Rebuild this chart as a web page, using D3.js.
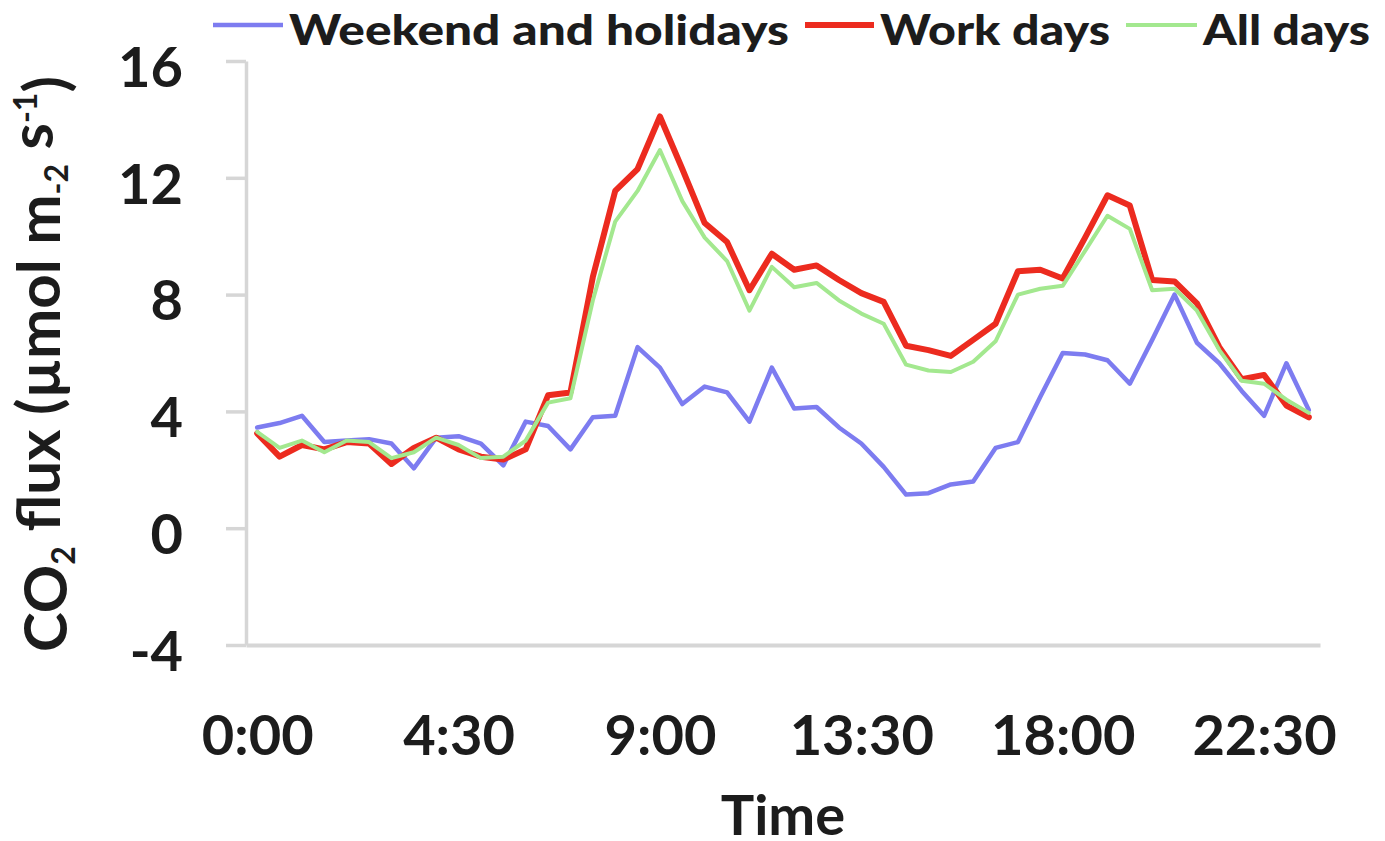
<!DOCTYPE html>
<html>
<head>
<meta charset="utf-8">
<script src="https://cdn.jsdelivr.net/npm/d3@7"></script>
<style>
  html, body { margin: 0; padding: 0; background: #ffffff; }
  svg { display: block; }
  text { font-family: Lato, "Open Sans", sans-serif; font-weight: 700; fill: #1c1c1c; }
</style>
</head>
<body>
<svg id="chart" width="1385" height="841"></svg>
<script>
// Half-hourly time of day
const times = [
  "0:00","0:30","1:00","1:30","2:00","2:30","3:00","3:30","4:00","4:30","5:00","5:30",
  "6:00","6:30","7:00","7:30","8:00","8:30","9:00","9:30","10:00","10:30","11:00","11:30",
  "12:00","12:30","13:00","13:30","14:00","14:30","15:00","15:30","16:00","16:30","17:00","17:30",
  "18:00","18:30","19:00","19:30","20:00","20:30","21:00","21:30","22:00","22:30","23:00","23:30"
];

// CO2 flux, µmol m-2 s-1
const weekendHolidays = [
  3.45, 3.6, 3.85, 2.95, 3.0, 3.05, 2.9, 2.05, 3.1, 3.15, 2.9, 2.15,
  3.65, 3.5, 2.7, 3.8, 3.85, 6.2, 5.5, 4.25, 4.85, 4.65, 3.65, 5.5,
  4.1, 4.15, 3.45, 2.9, 2.1, 1.15, 1.2, 1.5, 1.6, 2.75, 2.95, 4.5,
  6.0, 5.95, 5.75, 4.95, 6.45, 8.0, 6.35, 5.65, 4.7, 3.85, 5.65, 4.05
];
const workDays = [
  3.25, 2.45, 2.85, 2.7, 2.95, 2.9, 2.2, 2.75, 3.1, 2.7, 2.45, 2.35,
  2.7, 4.55, 4.65, 8.6, 11.55, 12.3, 14.1, 12.3, 10.45, 9.8, 8.15, 9.4,
  8.85, 9.0, 8.5, 8.05, 7.75, 6.25, 6.1, 5.9, 6.45, 7.0, 8.8, 8.85,
  8.55, 9.95, 11.4, 11.05, 8.5, 8.45, 7.7, 6.2, 5.1, 5.25, 4.2, 3.8
];
const allDays = [
  3.3, 2.75, 3.0, 2.6, 3.0, 2.95, 2.4, 2.6, 3.1, 2.85, 2.4, 2.45,
  3.0, 4.3, 4.45, 7.8, 10.5, 11.55, 12.95, 11.2, 9.95, 9.15, 7.45, 8.95,
  8.25, 8.4, 7.8, 7.35, 7.0, 5.6, 5.4, 5.35, 5.7, 6.4, 8.0, 8.2,
  8.3, 9.5, 10.7, 10.25, 8.15, 8.2, 7.45, 6.1, 5.05, 4.95, 4.4, 3.95
];

const xTickLabels = ["0:00", "4:30", "9:00", "13:30", "18:00", "22:30"];
const yTickValues = [-4, 0, 4, 8, 12, 16];

const seriesNames = ["Weekend and holidays", "Work days", "All days"];
const seriesColors = ["#7d7cf0", "#ec2b1f", "#a3e88f"];
const seriesWidths = [4.5, 6, 4];
const seriesData = [weekendHolidays, workDays, allDays];

const svg = d3.select("#chart");

const x = d3.scalePoint().domain(times).range([246, 1320]).padding(0.5);
const y = d3.scaleLinear().domain([-4, 16]).range([645, 61]);

const axisColor = "#d6d6d6";

// Y axis
const yAxis = svg.append("g")
  .attr("transform", "translate(246,0)")
  .call(d3.axisLeft(y)
    .tickValues(yTickValues)
    .tickFormat(d => String(d))
    .tickSize(20).tickSizeOuter(0).tickPadding(43));
yAxis.select(".domain").attr("stroke", axisColor).attr("stroke-width", 3.5);
yAxis.selectAll(".tick line").attr("stroke", axisColor).attr("stroke-width", 3.5);
yAxis.selectAll(".tick text")
  .attr("dy", "0.45em")
  .style("font-size", "56px")
  .style("font-family", "Lato, sans-serif")
  .style("font-weight", 700)
  .attr("fill", "#1c1c1c");

// X axis
const xAxis = svg.append("g")
  .attr("transform", "translate(0,645)")
  .call(d3.axisBottom(x).tickValues(times.filter(t => xTickLabels.includes(t))).tickSize(0).tickSizeOuter(0));
xAxis.select(".domain").attr("stroke", axisColor).attr("stroke-width", 4);
xAxis.selectAll(".tick text")
  .attr("y", 110)
  .attr("dy", 0)
  .style("font-size", "56px")
  .style("font-family", "Lato, sans-serif")
  .style("font-weight", 700)
  .attr("fill", "#1c1c1c");

// Series lines
const line = d3.line()
  .x((d, i) => x(times[i]))
  .y(d => y(d));

seriesData.forEach((vals, k) => {
  svg.append("path")
    .datum(vals)
    .attr("d", line)
    .attr("fill", "none")
    .attr("stroke", seriesColors[k])
    .attr("stroke-width", seriesWidths[k])
    .attr("stroke-linejoin", "round")
    .attr("stroke-linecap", "round");
});

// Legend
const legendItems = [
  { x0: 213, x1: 283, tx: 289, w: 500 },
  { x0: 805, x1: 874, tx: 880, w: 230 },
  { x0: 1126, x1: 1197, tx: 1203, w: 167 }
];
legendItems.forEach((p, k) => {
  svg.append("line")
    .attr("x1", p.x0).attr("x2", p.x1)
    .attr("y1", 25).attr("y2", 25)
    .attr("stroke", seriesColors[k])
    .attr("stroke-width", seriesWidths[k]);
  svg.append("text")
    .attr("x", p.tx).attr("y", 45)
    .attr("textLength", p.w)
    .attr("lengthAdjust", "spacingAndGlyphs")
    .style("font-size", "42px")
    .style("font-weight", 900)
    .text(seriesNames[k]);
});

// Axis titles
svg.append("text")
  .attr("x", 783).attr("y", 835)
  .attr("text-anchor", "middle")
  .style("font-size", "56px")
  .text("Time");

const yTitle = svg.append("text")
  .attr("transform", "translate(67,364) rotate(-90)")
  .attr("text-anchor", "middle")
  .style("font-size", "60px");
yTitle.append("tspan").text("CO");
yTitle.append("tspan").attr("dy", "0.25em").style("font-size", "32px").text("2");
yTitle.append("tspan").attr("dy", "-0.25em").text(" flux (µmol m");
yTitle.append("tspan").attr("dy", "0.25em").style("font-size", "32px").text("-2");
yTitle.append("tspan").attr("dy", "-0.25em").text(" s");
yTitle.append("tspan").attr("dy", "-0.5em").style("font-size", "32px").text("-1");
yTitle.append("tspan").attr("dy", "0.5em").text(")");
</script>
</body>
</html>
